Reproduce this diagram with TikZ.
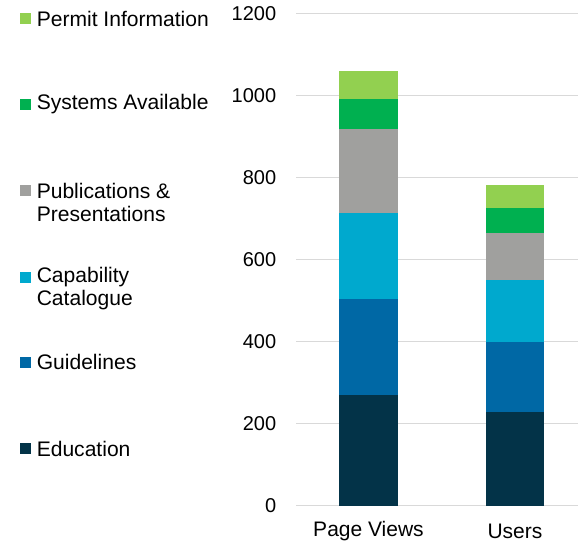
\documentclass[tikz,border=0pt]{standalone}
\usepackage{fontspec}
\setmainfont{Liberation Sans}
\definecolor{permit}{HTML}{92D050}
\definecolor{systems}{HTML}{00B050}
\definecolor{pubs}{HTML}{A0A09E}
\definecolor{capab}{HTML}{00A9CE}
\definecolor{guide}{HTML}{0068A5}
\definecolor{educ}{HTML}{033348}
\definecolor{gridgray}{HTML}{D9D9D9}
\begin{document}
\begin{tikzpicture}[x=0.75pt, y=0.75pt,
    gridline/.style={draw=gridgray, line width=0.9pt},
    ticklabel/.style={anchor=east, inner sep=0pt, font=\fontsize{15}{18}\selectfont},
    catlabel/.style={inner sep=0pt, font=\fontsize{15.75}{18}\selectfont},
    keybox/.style={minimum size=8.25pt, inner sep=0pt},
    keytext/.style={anchor=west, align=left, inner sep=0pt, font=\fontsize{15.8}{17.6}\selectfont}]
  \useasboundingbox (0,0) rectangle (578,544);
  % grid and value axis
  \foreach \v in {0,200,...,1200} {
    \draw[gridline] (296,{38.3+0.41*\v}) -- (578,{38.3+0.41*\v});
    \node[ticklabel] (tick\v) at (276.5,{38.3+0.41*\v}) {\v};
  }
  % Page Views
  \foreach \lo/\hi/\col in {0/270/educ, 270/503/guide, 503/714/capab,
      714/919/pubs, 919/992/systems, 992/1060/permit}
    \fill[\col] (339.3,{38.3+0.41*\lo}) rectangle (397.7,{38.3+0.41*\hi});
  % Users
  \foreach \lo/\hi/\col in {0/229/educ, 229/399/guide, 399/550/capab,
      550/664/pubs, 664/727/systems, 727/781/permit}
    \fill[\col] (485.7,{38.3+0.41*\lo}) rectangle (544.3,{38.3+0.41*\hi});
  \node[catlabel] (pageviews) at (368.5,12.5) {Page Views};
  \node[catlabel] (users) at (515,12.5) {Users};
  % legend
  \node[keybox, fill=permit] (key-permit) at (25.5,525.5) {};
  \node[keytext] (lbl-permit) at (36.5,525.5) {Permit Information};
  \node[keybox, fill=systems] (key-systems) at (25.5,439.5) {};
  \node[keytext] (lbl-systems) at (36.5,439.5) {Systems Available};
  \node[keybox, fill=pubs] (key-pubs) at (25.5,353.5) {};
  \node[keytext] (lbl-pubs) at (36.5,341.5) {Publications \&\\Presentations};
  \node[keybox, fill=capab] (key-capab) at (25.5,267) {};
  \node[keytext] (lbl-capab) at (36.5,255.3) {Capability\\Catalogue};
  \node[keybox, fill=guide] (key-guide) at (25.5,182) {};
  \node[keytext] (lbl-guide) at (36.5,182) {Guidelines};
  \node[keybox, fill=educ] (key-educ) at (25.5,95.5) {};
  \node[keytext] (lbl-educ) at (36.5,95.5) {Education};
\end{tikzpicture}
\end{document}
